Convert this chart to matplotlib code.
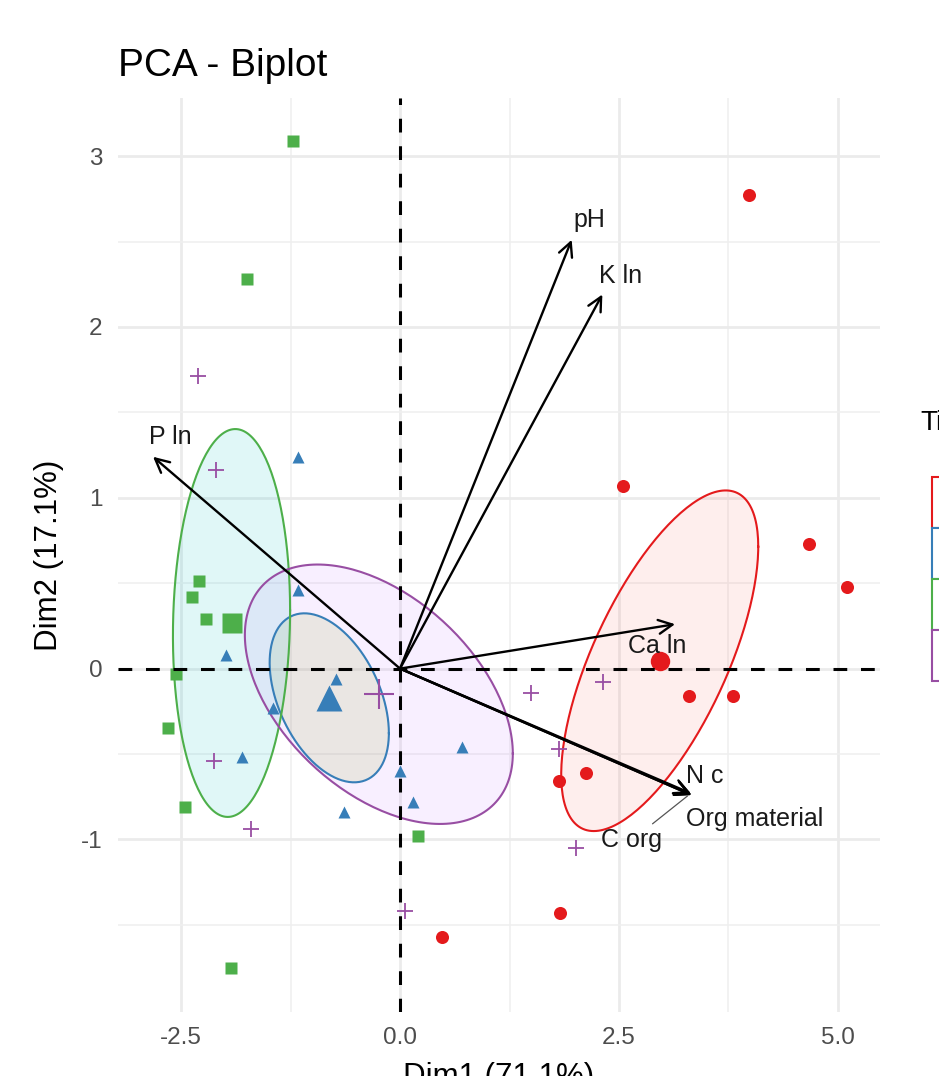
import numpy as np
import matplotlib
matplotlib.use('Agg')
import matplotlib.pyplot as plt
from matplotlib.patches import Patch

plt.rcParams['font.family'] = ['Liberation Sans', 'DejaVu Sans']

# individuals on Dim1 / Dim2, 10 samples per group
groups = ['CT', 'MT', 'NT', 'RT']
red_x = [3.99, 2.55, 4.67, 5.10, 3.30, 3.80, 2.12, 1.81, 1.83, 0.48]
red_y = [2.77, 1.07, 0.73, 0.48, -0.16, -0.16, -0.61, -0.66, -1.43, -1.57]
blue_x = [-1.16, -1.17, -1.99, -1.45, -1.80, 0.71, 0.00, 0.15, -0.64, -0.73]
blue_y = [1.24, 0.46, 0.08, -0.23, -0.52, -0.46, -0.60, -0.78, -0.84, -0.06]
green_x = [-1.22, -1.75, -2.29, -2.37, -2.22, -2.56, -2.65, -2.46, 0.21, -1.93]
green_y = [3.09, 2.28, 0.51, 0.42, 0.29, -0.03, -0.35, -0.81, -0.98, -1.75]
purple_x = [-2.31, -2.10, 1.50, -2.12, -1.70, 2.32, 1.82, 2.01, 0.06, -1.90]
purple_y = [1.71, 1.16, -0.14, -0.54, -0.94, -0.08, -0.47, -1.05, -1.42, 0.27]

# variables (arrow tips)
var_names = ['pH', 'K ln', 'P ln', 'Ca ln', 'N c', 'Org material', 'C org']
var_x = [1.96, 2.31, -2.82, 3.14, 3.33, 3.33, 3.32]
var_y = [2.51, 2.19, 1.24, 0.26, -0.74, -0.74, -0.73]

# label offsets in pixels (repelled labels)
lab_off = [(18, 20), (18, 18), (17, 20), (-18, -22), (13, 19), (63, -24), (-59, -47)]

line_cols = ['#E41A1C', '#377EB8', '#4DAF4A', '#984EA3']
fill_cols = ['#F8766D', '#7CAE00', '#00BFC4', '#C77CFF']
markers = ['o', '^', 's', '+']
msize = [9.4, 9.0, 8.0, 11.5]
big_size = [14, 19, 14, 21]

xs = [red_x, blue_x, green_x, purple_x]
ys = [red_y, blue_y, green_y, purple_y]

fig = plt.figure(figsize=(9.39, 10.76), dpi=100)
ax = fig.add_axes([118/939, 1 - 1012/1076, 762/939, 914/1076])
ax.set_xlim(-3.22, 5.48)
ax.set_ylim(-2.01, 3.34)

ax.set_xticks([-2.5, 0.0, 2.5, 5.0])
ax.set_xticklabels(['-2.5', '0.0', '2.5', '5.0'])
ax.set_yticks([-1, 0, 1, 2, 3])
ax.set_yticklabels(['-1', '0', '1', '2', '3'])
ax.set_xticks([-1.25, 1.25, 3.75], minor=True)
ax.set_yticks([-1.5, -0.5, 0.5, 1.5, 2.5], minor=True)
ax.grid(which='major', color='#EBEBEB', lw=2.0, zorder=0)
ax.grid(which='minor', color='#EFEFEF', lw=1.1, zorder=0)
ax.set_axisbelow(True)
ax.tick_params(which='both', length=0, labelsize=17.5, labelcolor='#4D4D4D', pad=11)
for s in ax.spines.values():
    s.set_visible(False)

# confidence ellipses
chi = -2 * np.log(1 - 0.95)
t = np.linspace(0, 2 * np.pi, 200)
for i in range(4):
    x = np.array(xs[i])
    y = np.array(ys[i])
    L = np.linalg.cholesky(np.cov(x, y))
    r = np.sqrt(chi / len(x))
    pts = np.array([x.mean(), y.mean()])[:, None] + r * L @ np.vstack([np.cos(t), np.sin(t)])
    ax.fill(pts[0], pts[1], facecolor=fill_cols[i], alpha=0.12, edgecolor='none', zorder=1)
    ax.plot(pts[0], pts[1], color=line_cols[i], lw=1.5, zorder=2)

# individuals and group means
for i in range(4):
    if markers[i] == '+':
        ax.plot(xs[i], ys[i], ls='none', marker='+', ms=msize[i], mew=1.3,
                color=line_cols[i], zorder=3)
    else:
        ax.plot(xs[i], ys[i], ls='none', marker=markers[i], ms=msize[i],
                color=line_cols[i], mec='none', zorder=3)
for i in range(4):
    mx, my = np.mean(xs[i]), np.mean(ys[i])
    if markers[i] == '+':
        ax.plot(mx, my, marker='+', ms=big_size[i], mew=1.5, color=line_cols[i], zorder=4)
    else:
        ax.plot(mx, my, marker=markers[i], ms=big_size[i], color=line_cols[i],
                mec='none', zorder=4)

ax.axhline(0, color='black', lw=2.2, ls=(0, (4.5, 4.5)), zorder=5)
ax.axvline(0, color='black', lw=2.2, ls=(0, (4.5, 4.5)), zorder=5)

# variable arrows and labels
for name, vx, vy, off in zip(var_names, var_x, var_y, lab_off):
    ax.annotate('', xy=(vx, vy), xytext=(0, 0),
                arrowprops=dict(arrowstyle='->,head_length=0.5,head_width=0.25',
                                lw=1.7, color='black', shrinkA=0, shrinkB=0,
                                mutation_scale=20), zorder=6)
for name, vx, vy, off in zip(var_names, var_x, var_y, lab_off):
    if name == 'C org':
        ax.annotate(name, xy=(vx, vy), xytext=off, textcoords='offset pixels',
                    ha='center', va='center', fontsize=18, color='#1A1A1A', zorder=7,
                    arrowprops=dict(arrowstyle='-', lw=0.9, color='#555555',
                                    shrinkA=2, shrinkB=3))
    else:
        ax.annotate(name, xy=(vx, vy), xytext=off, textcoords='offset pixels',
                    ha='center', va='center', fontsize=18, color='#1A1A1A', zorder=7)

ax.set_xlabel('Dim1 (71.1%)', fontsize=22.5, labelpad=9)
ax.set_ylabel('Dim2 (17.1%)', fontsize=22.5, labelpad=12)
ax.set_title('PCA - Biplot', loc='left', fontsize=28, pad=16)

# legend (runs off the right edge, as in the original)
handles = [Patch(facecolor=(1, 1, 1), edgecolor=line_cols[i], lw=1.5) for i in range(4)]
fig.text(920/939, 1 - 423/1076, 'Tillage', ha='left', va='center', fontsize=20)
fig.legend(handles, groups, loc='upper left', bbox_to_anchor=(932/939, 1 - 477/1076),
           frameon=False, fontsize=18, labelspacing=0, handleheight=2.76,
           handlelength=2.76, borderpad=0, borderaxespad=0, handletextpad=0.5)

fig.savefig('out.png', dpi=100)
